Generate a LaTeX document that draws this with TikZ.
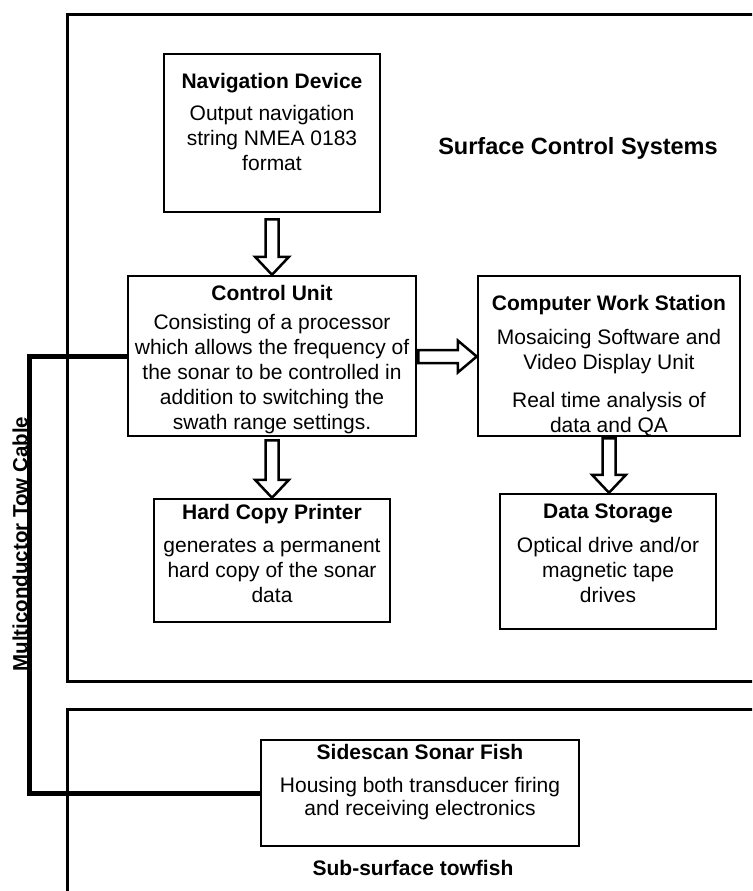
\documentclass[tikz,border=0pt]{standalone}
\usepackage{fontspec}
\setmainfont{Liberation Sans}
\usetikzlibrary{calc}
\tikzset{
  box/.style={draw=black, line width=2.5pt, fill=white, inner sep=0pt},
  outer/.style={draw=black, line width=3pt},
  cable/.style={draw=black, line width=5pt},
  blk/.style={draw=black, line width=2.5pt, fill=white, line join=miter},
  ttl/.style={font=\bfseries\fontsize{21}{25}\selectfont, inner sep=0pt, anchor=north, align=center},
  bdy/.style={font=\fontsize{21}{25}\selectfont, inner sep=0pt, anchor=north, align=center},
}
\newcommand\vblock[2]{%
  \draw[blk] let \p1=(#1), \p2=(#2) in
    (\x1-6.5pt,\y1) -- (\x1-6.5pt,\y2+18pt) -- (\x1-17pt,\y2+18pt) -- (\x1,\y2)
    -- (\x1+17pt,\y2+18pt) -- (\x1+6.5pt,\y2+18pt) -- (\x1+6.5pt,\y1) -- cycle;}
\newcommand\hblock[2]{%
  \draw[blk] let \p1=(#1), \p2=(#2) in
    (\x1,\y1+6.5pt) -- (\x2-19pt,\y1+6.5pt) -- (\x2-19pt,\y1+16pt) -- (\x2,\y1)
    -- (\x2-19pt,\y1-16pt) -- (\x2-19pt,\y1-6.5pt) -- (\x1,\y1-6.5pt) -- cycle;}
\begin{document}
\begin{tikzpicture}[x=1pt, y=-1pt]
\useasboundingbox (0,0) rectangle (752,891);
\clip (0,0) rectangle (752,891);
\fill[white] (0,0) rectangle (752,891);

% outer system boxes
\draw[outer] (67.5,14.5) rectangle (800,681.5);
\draw[outer] (67.5,709.5) rectangle (800,960);

% boxes
\node[box, minimum width=216pt, minimum height=158pt] (nav) at (272,133) {};
\node[box, minimum width=288pt, minimum height=160pt] (cu) at (272,356) {};
\node[box, minimum width=262pt, minimum height=160pt] (cws) at (609,356) {};
\node[box, minimum width=236pt, minimum height=123pt] (hcp) at (272,560.5) {};
\node[box, minimum width=216pt, minimum height=135pt] (ds) at (608,561.5) {};
\node[box, minimum width=318pt, minimum height=106pt] (fish) at (420,793) {};

% tow cable
\coordinate (bend) at (29,356);
\draw[cable] (cu.west) -- (bend) |- (fish.west);

% block arrows
\vblock{$(nav.south)+(0,6)$}{cu.north}
\vblock{$(cu.south)+(0,3)$}{hcp.north}
\vblock{$(cws.south)+(0,1)$}{ds.north}
\hblock{$(cu.east)+(1,0.5)$}{cws.west}

% texts
\node[ttl] (navt) at (272,73) {Navigation Device};
\node[bdy] (navb) at (272,105) {Output navigation\\string NMEA 0183\\format};

\node[ttl] (cut) at (272,285) {Control Unit};
\node[bdy] (cub) at (272,314) {Consisting of a processor\\which allows the frequency of\\the sonar to be controlled in\\addition to switching the\\swath range settings.};

\node[ttl] (cwst) at (609,295) {Computer Work Station};
\node[bdy] (cwsb) at (609,329) {Mosaicing Software and\\Video Display Unit};
\node[bdy] (cwsc) at (609,392) {Real time analysis of\\data and QA};

\node[ttl] (hcpt) at (272,504) {Hard Copy Printer};
\node[bdy] (hcpb) at (272,539) {generates a permanent\\hard copy of the sonar\\data};

\node[ttl] (dst) at (608,504) {Data Storage};
\node[bdy] (dsb) at (608,537) {Optical drive and/or\\magnetic tape\\drives};

\node[ttl] (fisht) at (420,744) {Sidescan Sonar Fish};
\node[bdy, font=\fontsize{21}{23}\selectfont] (fishb) at (420,777) {Housing both transducer firing\\and receiving electronics};

\node[font=\bfseries\fontsize{23.5}{28}\selectfont, inner sep=0pt, anchor=base] (surf) at (578,154.5) {Surface Control Systems};
\node[font=\bfseries\fontsize{21}{25}\selectfont, inner sep=0pt, anchor=base] (sub) at (413,875.5) {Sub-surface towfish};
\node[font=\bfseries\fontsize{20.5}{24}\selectfont, inner sep=0pt, rotate=90] (cablelbl) at (20,544) {Multiconductor Tow Cable};
\end{tikzpicture}
\end{document}
